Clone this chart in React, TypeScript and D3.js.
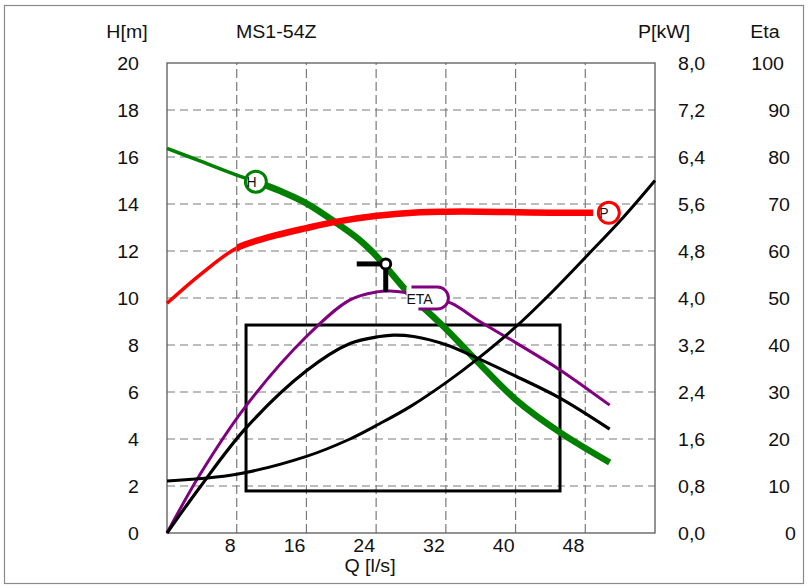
import React from "react";
import * as d3 from "d3";

// ---- axis ticks ----
const qTicks = [8, 16, 24, 32, 40, 48];
const hTicks = [0, 2, 4, 6, 8, 10, 12, 14, 16, 18, 20];
const pTickLabels = ["0,0", "0,8", "1,6", "2,4", "3,2", "4,0", "4,8", "5,6", "6,4", "7,2", "8,0"];
const etaTickLabels = ["0", "10", "20", "30", "40", "50", "60", "70", "80", "90", "100"];

// ---- H curve (m) ----
const headQ = [0, 4, 8, 10.2, 13, 16, 19.5, 22, 24.1, 27.5, 29.4, 32.1, 35.6, 40.1, 45.1, 50.8];
const headH = [16.37, 15.8, 15.23, 14.95, 14.55, 14.03, 13.18, 12.5, 11.76, 10.3, 9.6, 8.65, 7.3, 5.65, 4.28, 3.0];

// ---- P curve (kW) ----
const powerQ = [0, 4, 8, 11.8, 16, 19.5, 24.1, 29, 32.1, 36, 40.1, 44, 48.9];
const powerP = [3.91, 4.42, 4.85, 5.04, 5.19, 5.3, 5.4, 5.46, 5.47, 5.47, 5.46, 5.45, 5.45];

// ---- ETA curve (%) ----
const etaQ = [0, 3.8, 9.05, 16, 21, 24.1, 25.6, 27.5, 30.3, 32.6, 35.9, 40.1, 45.1, 50.8];
const etaE = [0, 12.5, 27.0, 41.8, 49.6, 51.3, 51.5, 51.1, 50.0, 48.9, 45.0, 40.4, 34.7, 27.2];

// ---- second efficiency curve (black hump, %) ----
const eta2Q = [0, 3.8, 9.05, 16, 21, 24.4, 26, 28.3, 32.1, 35.6, 40.1, 45.1, 50.8];
const eta2E = [0, 9.8, 22.3, 34.5, 40.3, 41.8, 42.1, 41.8, 40.0, 37.2, 33.3, 28.7, 22.1];

// ---- system curve (black rising, m) ----
const sysQ = [0, 8, 16, 21, 24.4, 28, 32.1, 35.6, 40.1, 44.3, 48.2, 52.4, 56];
const sysH = [2.21, 2.5, 3.26, 4.0, 4.65, 5.4, 6.42, 7.4, 8.8, 10.3, 11.8, 13.45, 15.0];

// ---- operating range box ----
const boxQ = [9.07, 45.1];
const boxH = [1.79, 8.85];

// ---- markers ----
const markerH = { q: 10.2, v: 14.95 };
const markerP = { q: 50.7, v: 5.45 };
const markerEta = { q: 30.0, v: 50.0 };
const dutyQ = 25.1;
const dutyH = 11.45;
const dutyEta = 51.3;
const powerThickFrom = 8;

const W = 808;
const H = 588;
const FONT = "'Liberation Sans', Arial, Helvetica, sans-serif";

function Label(props: { x: number; y: number; anchor?: string; children: React.ReactNode }) {
  return (
    <text
      transform={`translate(${props.x},${props.y}) scale(1.12,1)`}
      textAnchor={props.anchor || "start"}
      fontSize={17.5}
      fill="#111"
    >
      {props.children}
    </text>
  );
}

export default function App() {
  const x = d3.scaleLinear().domain([0, 56]).range([167, 655]);
  const yH = d3.scaleLinear().domain([0, 20]).range([533, 63]);
  const yP = d3.scaleLinear().domain([0, 8]).range([533, 63]);
  const yE = d3.scaleLinear().domain([0, 100]).range([533, 63]);

  const mk = (qs: number[], vs: number[], ys: d3.ScaleLinear<number, number>) =>
    d3
      .line<number>()
      .x((_, i) => x(qs[i]))
      .y((_, i) => ys(vs[i]))
      .curve(d3.curveCatmullRom.alpha(0.5))(vs) || "";

  const green = "#008000";
  const red = "#ff0000";
  const purple = "#800080";
  const gridColor = "#7a7a7a";

  const mhx = x(markerH.q);
  const mhy = yH(markerH.v);
  const mpx = x(markerP.q);
  const mpy = yP(markerP.v);
  const mex = x(markerEta.q);
  const mey = yE(markerEta.v);
  const dx = x(dutyQ);
  const dy = yH(dutyH);

  const headPath = mk(headQ, headH, yH);
  const powerPath = mk(powerQ, powerP, yP);

  return (
    <svg
      width={W}
      height={H}
      style={{ position: "absolute", left: 0, top: 0, display: "block", background: "#fff" }}
      fontFamily={FONT}
    >
      <defs>
        <clipPath id="hThin">
          <rect x={0} y={0} width={mhx} height={H} />
        </clipPath>
        <clipPath id="hThick">
          <rect x={mhx} y={0} width={W} height={H} />
        </clipPath>
        <clipPath id="pThin">
          <rect x={0} y={0} width={x(powerThickFrom)} height={H} />
        </clipPath>
        <clipPath id="pThick">
          <rect x={x(powerThickFrom)} y={0} width={W} height={H} />
        </clipPath>
      </defs>
      <rect x={0} y={0} width={W} height={H} fill="#fff" />
      <rect x={4.5} y={5.5} width={799} height={578} fill="none" stroke="#8a8a8a" strokeWidth={1.2} />

      {/* grid */}
      {hTicks.slice(1, -1).map((t) => (
        <line key={"hg" + t} x1={x(0)} x2={x(56)} y1={yH(t)} y2={yH(t)} stroke={gridColor} strokeWidth={1.2} strokeDasharray="8,5" />
      ))}
      {qTicks.map((t) => (
        <line key={"vg" + t} x1={x(t)} x2={x(t)} y1={yH(0)} y2={yH(20)} stroke={gridColor} strokeWidth={1.2} strokeDasharray="9,4" />
      ))}
      <rect x={x(0)} y={yH(20)} width={x(56) - x(0)} height={yH(0) - yH(20)} fill="none" stroke="#5a5a5a" strokeWidth={1.3} />

      {/* axis labels */}
      {hTicks.map((t) => (
        <Label key={"hl" + t} x={139} y={yH(t) + 6.5} anchor="end">{t}</Label>
      ))}
      {pTickLabels.map((t, i) => (
        <Label key={"pl" + t} x={678} y={yH(hTicks[i]) + 6.5}>{t}</Label>
      ))}
      {etaTickLabels.map((t, i) => (
        <Label key={"el" + t} x={784 + 6 * (3 - t.length)} y={yH(hTicks[i]) + 6.5} anchor="end">{t}</Label>
      ))}
      {qTicks.map((t) => (
        <Label key={"ql" + t} x={x(t) - 1} y={552} anchor="end">{t}</Label>
      ))}
      <Label x={370} y={572} anchor="middle">Q [l/s]</Label>
      <Label x={127} y={38} anchor="middle">H[m]</Label>
      <Label x={236} y={38}>MS1-54Z</Label>
      <Label x={664} y={38} anchor="middle">P[kW]</Label>
      <Label x={765} y={38} anchor="middle">Eta</Label>

      {/* box */}
      <rect
        x={x(boxQ[0])}
        y={yH(boxH[1])}
        width={x(boxQ[1]) - x(boxQ[0])}
        height={yH(boxH[0]) - yH(boxH[1])}
        fill="none"
        stroke="#000"
        strokeWidth={3}
      />

      {/* curves */}
      <path d={headPath} fill="none" stroke={green} strokeWidth={3.5} clipPath="url(#hThin)" />
      <path d={headPath} fill="none" stroke={green} strokeWidth={6.5} clipPath="url(#hThick)" />
      <path d={powerPath} fill="none" stroke={red} strokeWidth={3.5} clipPath="url(#pThin)" />
      <path d={powerPath} fill="none" stroke={red} strokeWidth={6.5} clipPath="url(#pThick)" />
      <path d={mk(etaQ, etaE, yE)} fill="none" stroke={purple} strokeWidth={3} />
      <path d={mk(eta2Q, eta2E, yE)} fill="none" stroke="#000" strokeWidth={3.2} />
      <path d={mk(sysQ, sysH, yH)} fill="none" stroke="#000" strokeWidth={3} />

      {/* H marker */}
      <circle cx={mhx} cy={mhy} r={10.5} fill="#fff" stroke={green} strokeWidth={3} />
      <text x={mhx - 9.5} y={mhy + 5} fontSize={14} fill="#111">H</text>

      {/* P marker */}
      <circle cx={mpx} cy={mpy} r={10.5} fill="#fff" stroke={red} strokeWidth={3} />
      <text x={mpx - 9.5} y={mpy + 5} fontSize={14} fill="#111">P</text>

      {/* ETA marker */}
      <path
        d={`M ${mex - 22},${mey - 11} H ${mex + 9} A 11 11 0 0 1 ${mex + 9},${mey + 11} H ${mex - 22} Z`}
        fill="#fff"
        stroke="none"
      />
      <path
        d={`M ${mex - 17},${mey - 11} H ${mex + 9} A 11 11 0 0 1 ${mex + 9},${mey + 11} H ${mex - 10}`}
        fill="none"
        stroke={purple}
        strokeWidth={3}
      />
      <text x={mex - 22} y={mey + 6} fontSize={14} fill="#111">ETA</text>

      {/* duty point */}
      <line x1={dx - 29} x2={dx} y1={dy} y2={dy} stroke="#000" strokeWidth={5} />
      <line x1={dx} x2={dx} y1={dy} y2={yE(dutyEta)} stroke="#000" strokeWidth={5} />
      <circle cx={dx} cy={dy} r={5} fill="#fff" stroke="#000" strokeWidth={3} />
    </svg>
  );
}
